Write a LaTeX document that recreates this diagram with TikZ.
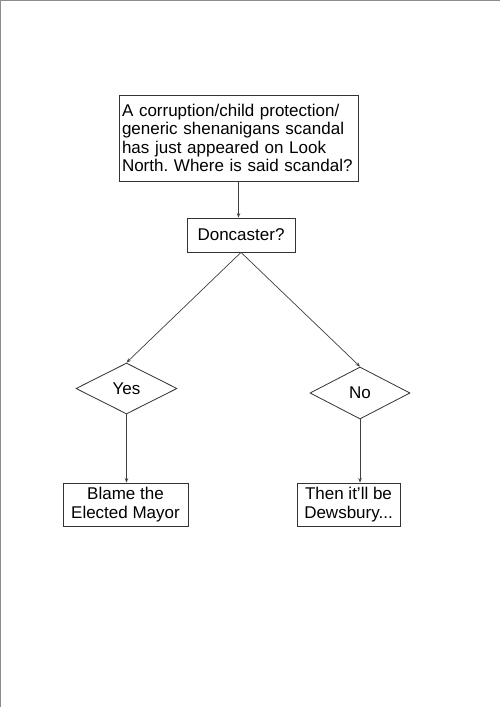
\documentclass[tikz,border=0pt]{standalone}
\usepackage{fontspec}
\setmainfont{Liberation Sans}
\usetikzlibrary{shapes.geometric,arrows.meta}
\begin{document}
\frenchspacing
\begin{tikzpicture}[x=1pt,y=-1pt,
  box/.style={draw=black!80,line width=0.8pt,inner sep=0pt,font=\fontsize{17}{18.5}\selectfont},
  dia/.style={draw=black!80,line width=0.8pt,diamond,aspect=2,inner sep=0pt,font=\fontsize{17}{18.5}\selectfont},
  conn/.style={draw=black!75,line width=0.7pt,-{Stealth[length=4.5pt,width=3.5pt]}},
  frame/.style={draw=black!45,line width=1pt}]
\useasboundingbox (0,0) rectangle (500,707);
\fill[white] (0,0) rectangle (500,707);
\coordinate (tl) at (0,0.5);
\coordinate (tr) at (500,0.5);
\coordinate (lt) at (0.5,0);
\coordinate (lb) at (0.5,707);
\draw[frame] (tl) -- (tr);
\draw[frame] (lt) -- (lb);
\node[box,minimum width=239pt,minimum height=86pt,text width=233pt,inner xsep=3pt,align=left] (top) at (238.5,138)
  {A corruption/child protection/\\generic shenanigans scandal\\has just appeared on Look\\North. Where is said scandal?};
\node[box,minimum width=108pt,minimum height=34pt] (don) at (241,235) {Doncaster?};
\node[dia,minimum width=101pt,minimum height=51pt] (yes) at (126.5,388.5) {Yes};
\node[dia,minimum width=100pt,minimum height=52pt] (no) at (360,393) {No};
\node[box,minimum width=125pt,minimum height=43pt,align=center] (blame) at (125.5,504.5) {Blame the\\Elected Mayor};
\node[box,minimum width=103pt,minimum height=43pt,align=center] (dews) at (348.5,504.5) {Then it’ll be\\Dewsbury...};
\draw[conn] (top.south) -- (top.south |- don.north);
\draw[conn] (don.south) -- (yes.north);
\draw[conn] (don.south) -- (no.north);
\draw[conn] (yes.south) -- (yes.south |- blame.north);
\draw[conn] (no.south) -- (no.south |- dews.north);
\end{tikzpicture}
\end{document}
